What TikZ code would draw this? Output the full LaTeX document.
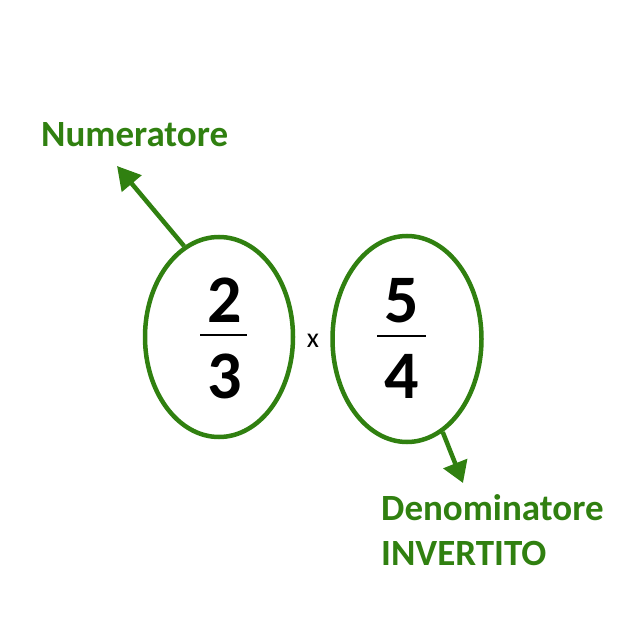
\documentclass[tikz,border=0pt]{standalone}
\usepackage{fontspec}
\setmainfont{Carlito}
\usetikzlibrary{shapes.geometric,arrows.meta}
\definecolor{grn}{RGB}{48,128,16}
\tikzset{
  oval/.style={draw=grn, line width=4.5pt, ellipse, inner sep=0pt},
  lbl/.style={text=grn, font=\fontsize{37}{45}\selectfont\bfseries, anchor=base west, inner sep=0pt},
  digit/.style={font=\fontsize{68}{68}\selectfont\bfseries, anchor=base, inner sep=0pt},
  ptr/.style={draw=grn, line width=4.5pt},
  bar/.style={line width=2.2pt}
}
\begin{document}
\begin{tikzpicture}[x=1pt,y=-1pt]
\useasboundingbox (0,0) rectangle (629,639);
\node[oval, minimum width=148pt, minimum height=200pt] (e1) at (219,337) {};
\node[oval, minimum width=149pt, minimum height=206pt] (e2) at (407,339) {};
\node[digit] (n1) at (225,322) {2};
\node[digit] (d1) at (225,398) {3};
\draw[bar] (200,335) -- (247,335);
\node[digit] (n2) at (402,322) {5};
\node[digit] (d2) at (402,398) {4};
\draw[bar] (377,336) -- (426,336);
\node[font=\fontsize{28}{28}\selectfont, anchor=base, inner sep=0pt] (times) at (313,347) {x};
\node[lbl] (num) at (41,147) {Numeratore};
\node[lbl] (den) at (381,520) {Denominatore};
\node[lbl] (inv) at (381,565) {INVERTITO};
\coordinate (t1) at (117,166);
\coordinate (t2) at (463,483);
\draw[ptr, -{Triangle[length=23pt,width=25pt]}] (e1.111) -- (t1);
\draw[ptr, -{Triangle[length=21pt,width=25pt]}] (e2.-69) -- (t2);
\end{tikzpicture}
\end{document}
